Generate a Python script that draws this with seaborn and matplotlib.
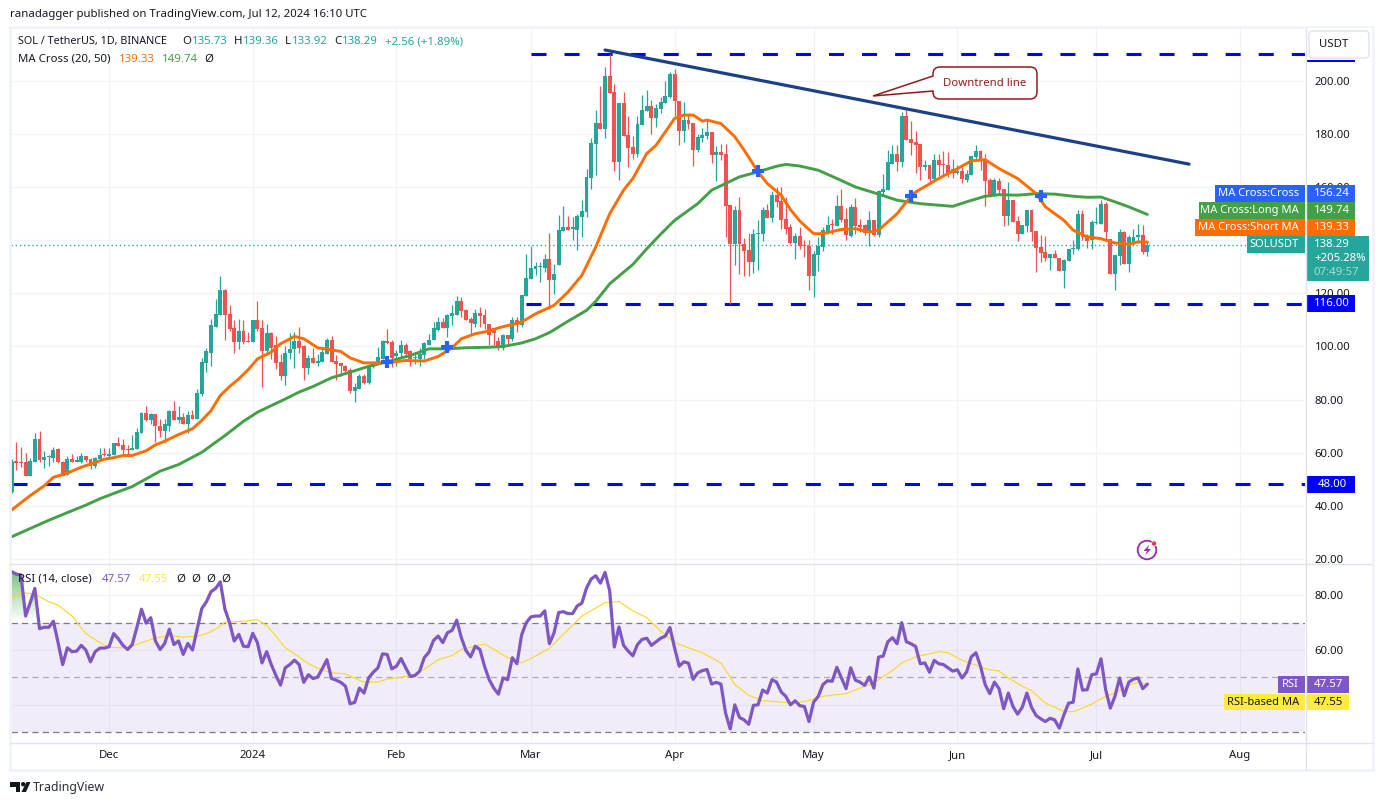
"""
SOL / TetherUS daily chart with MA cross and RSI panels, rebuilt with seaborn.
All values were read off the published TradingView picture.
"""

import matplotlib
matplotlib.use("Agg")

import matplotlib.dates as mdates
import matplotlib.pyplot as plt
import numpy as np
import pandas as pd
import seaborn as sns
from matplotlib.patches import Circle, FancyBboxPatch, PathPatch, Polygon, Rectangle
from matplotlib.path import Path


# ----------------------------------------------------------
# DATA
# ----------------------------------------------------------

first_day = "2023-11-10"

opens = [
    45.0, 56.6, 56.3, 56.3, 51.3, 56.6, 65.3, 57.3, 58.3, 58.1,
    61.2, 56.6, 51.4, 57.7, 56.6, 56.6, 58.7, 57.7, 54.9, 57.7,
    59.2, 58.7, 59.2, 63.8, 63.0, 61.5, 60.8, 61.5, 67.5, 75.1,
    72.1, 74.7, 70.2, 68.3, 70.2, 75.8, 72.1, 73.6, 70.6, 74.3,
    72.5, 81.9, 93.6, 97.7, 107.5, 112.0, 121.1, 112.4, 106.8, 101.5,
    106.0, 101.8, 101.5, 109.8, 106.8, 98.1, 104.9, 100.4, 94.0, 89.0,
    97.4, 98.9, 101.9, 100.0, 91.8, 95.7, 93.7, 94.1, 97.2, 102.3,
    94.5, 93.7, 92.8, 91.0, 83.4, 84.0, 88.7, 86.4, 92.2, 93.7,
    95.4, 101.9, 101.6, 96.3, 97.4, 100.7, 98.1, 95.7, 95.4, 96.6,
    100.7, 102.3, 106.3, 109.2, 107.0, 111.3, 112.0, 117.0, 113.6, 110.2,
    108.6, 112.6, 111.7, 108.3, 107.0, 102.0, 99.4, 104.2, 102.9, 109.8,
    107.9, 118.9, 125.3, 129.0, 129.8, 129.7, 133.1, 124.9, 130.6, 143.4,
    144.9, 144.4, 144.0, 148.8, 150.6, 163.4, 176.2, 184.1, 181.9, 201.9,
    195.9, 169.6, 191.7, 179.6, 175.1, 172.4, 183.4, 188.7, 190.6, 186.0,
    189.4, 191.7, 194.0, 202.6, 192.5, 181.1, 185.3, 184.1, 174.0, 178.5,
    179.2, 180.8, 172.1, 173.2, 172.4, 153.2, 138.5, 151.3, 138.5, 136.2,
    131.7, 142.3, 142.3, 151.3, 148.3, 157.0, 154.7, 147.9, 144.9, 139.0,
    141.5, 138.3, 137.7, 126.4, 134.5, 137.5, 143.3, 145.9, 145.3, 152.8,
    147.9, 141.8, 152.6, 145.9, 145.6, 142.8, 147.5, 141.9, 158.1, 158.9,
    168.9, 172.4, 169.4, 186.8, 178.1, 177.0, 176.2, 167.7, 168.2, 163.1,
    170.2, 168.7, 168.2, 166.7, 165.4, 166.0, 162.6, 164.5, 171.4, 173.6,
    170.6, 162.6, 157.0, 162.4, 159.2, 149.0, 155.1, 147.2, 142.5, 145.4,
    151.3, 143.5, 137.4, 135.7, 133.3, 134.8, 133.5, 128.3, 132.1, 136.7,
    136.6, 149.8, 141.5, 140.3, 146.6, 146.3, 153.8, 140.6, 127.4, 134.0,
    143.1, 131.2, 138.5, 141.3, 141.9, 135.73,
]

closes = [
    56.6, 56.2, 56.0, 51.3, 57.0, 65.3, 57.3, 58.5, 58.5, 61.0,
    56.4, 51.3, 57.7, 56.4, 57.0, 58.7, 57.3, 54.9, 58.1, 59.2,
    59.0, 59.6, 63.8, 62.5, 61.1, 60.8, 61.9, 67.8, 75.1, 72.1,
    74.7, 70.0, 68.3, 70.6, 75.8, 72.1, 73.6, 70.6, 74.3, 72.5,
    82.3, 94.0, 98.1, 107.9, 112.4, 121.1, 112.0, 106.4, 101.5, 106.0,
    101.5, 101.5, 109.8, 106.4, 98.1, 104.9, 99.6, 93.6, 89.0, 97.7,
    99.2, 101.9, 99.6, 91.8, 95.7, 93.7, 94.5, 97.9, 102.5, 94.1,
    93.2, 92.5, 90.6, 83.4, 84.7, 89.0, 86.4, 92.4, 94.1, 96.0,
    101.9, 101.4, 95.7, 97.7, 100.7, 97.2, 95.4, 95.8, 97.0, 101.2,
    102.5, 106.8, 109.2, 107.0, 111.7, 112.6, 117.0, 113.2, 109.8, 108.8,
    112.6, 111.3, 108.3, 104.5, 105.0, 99.5, 104.2, 102.9, 109.8, 107.9,
    119.2, 125.8, 129.4, 130.2, 130.0, 133.1, 124.9, 127.4, 143.8, 144.9,
    144.0, 144.6, 149.0, 151.0, 163.8, 176.6, 184.1, 181.9, 201.9, 195.4,
    169.6, 191.7, 179.2, 174.7, 172.4, 183.8, 189.0, 190.6, 186.0, 189.7,
    192.1, 194.3, 202.6, 192.5, 181.1, 185.3, 183.8, 174.0, 178.9, 179.6,
    180.8, 172.1, 173.2, 172.1, 152.8, 138.5, 151.3, 138.5, 136.0, 131.7,
    142.3, 142.7, 151.3, 148.3, 157.0, 154.3, 147.6, 144.4, 139.0, 141.5,
    137.7, 137.9, 126.5, 135.0, 137.7, 143.8, 145.9, 145.6, 152.8, 147.5,
    141.9, 152.6, 145.4, 145.0, 142.8, 147.5, 141.9, 158.5, 159.2, 169.6,
    172.4, 169.4, 186.8, 177.7, 176.6, 175.8, 167.7, 168.2, 163.1, 170.2,
    168.4, 168.4, 165.2, 165.2, 166.0, 163.0, 164.9, 171.7, 173.6, 170.2,
    162.4, 157.0, 162.6, 158.9, 149.0, 155.1, 146.9, 142.5, 145.7, 151.3,
    143.1, 137.1, 135.3, 133.3, 134.8, 133.3, 128.3, 132.4, 136.6, 136.9,
    149.8, 141.3, 139.9, 146.9, 146.8, 153.6, 143.1, 127.4, 134.3, 143.1,
    131.2, 141.3, 141.3, 141.9, 135.6, 138.29,
]

highs = [
    57.6, 64.1, 62.0, 60.0, 58.0, 67.2, 68.3, 60.7, 59.2, 62.1,
    61.6, 57.0, 58.9, 59.6, 58.9, 60.0, 58.9, 58.1, 58.5, 61.9,
    61.9, 61.9, 63.8, 65.8, 65.3, 63.0, 66.8, 69.3, 75.3, 77.7,
    75.1, 74.7, 72.5, 72.5, 76.2, 79.6, 77.4, 75.1, 75.8, 76.2,
    84.1, 95.5, 99.6, 110.2, 118.0, 126.4, 121.5, 115.5, 109.8, 110.2,
    109.8, 105.3, 109.8, 117.0, 109.8, 108.3, 105.6, 104.0, 97.0, 100.0,
    104.9, 105.6, 107.2, 100.4, 96.6, 99.5, 97.0, 99.7, 103.2, 103.9,
    96.6, 93.7, 93.1, 91.9, 86.3, 89.7, 89.7, 92.8, 94.7, 99.7,
    102.3, 106.4, 102.5, 98.5, 102.5, 101.2, 98.5, 97.9, 99.5, 101.6,
    104.8, 109.2, 111.0, 110.7, 112.3, 115.5, 118.9, 118.6, 114.2, 111.0,
    114.2, 115.0, 114.2, 108.3, 107.0, 103.5, 104.8, 104.2, 111.0, 111.0,
    119.2, 134.7, 137.7, 131.8, 132.0, 135.0, 142.8, 131.0, 149.4, 152.8,
    149.0, 148.8, 150.0, 155.1, 166.7, 178.5, 189.0, 198.1, 205.3, 210.2,
    198.9, 191.7, 195.9, 186.8, 179.2, 186.8, 194.7, 196.6, 192.8, 191.3,
    194.0, 200.0, 203.4, 204.5, 192.5, 192.1, 187.5, 184.1, 180.0, 182.5,
    184.9, 180.8, 175.5, 176.2, 176.2, 153.2, 152.8, 156.2, 140.8, 142.8,
    144.1, 147.5, 152.6, 153.8, 158.5, 160.1, 160.1, 156.4, 146.3, 142.8,
    145.0, 140.0, 140.0, 136.0, 141.2, 145.0, 149.0, 148.2, 157.0, 159.2,
    152.0, 153.6, 156.0, 148.2, 146.3, 151.0, 147.5, 158.9, 164.9, 174.0,
    176.1, 175.8, 188.2, 189.0, 184.9, 181.3, 176.2, 170.4, 168.2, 172.4,
    172.7, 173.7, 173.3, 170.8, 168.3, 167.7, 166.4, 171.8, 175.8, 174.2,
    172.7, 163.6, 163.3, 163.3, 159.2, 161.8, 155.1, 149.0, 145.7, 151.3,
    151.7, 143.5, 141.9, 141.5, 134.9, 136.5, 133.5, 132.8, 136.9, 140.2,
    151.3, 151.3, 142.5, 147.5, 152.6, 155.1, 154.5, 140.6, 134.3, 144.4,
    143.5, 141.9, 144.4, 146.3, 145.9, 139.36,
]

lows = [
    44.6, 53.6, 54.5, 51.3, 51.0, 56.4, 56.4, 54.1, 54.9, 56.4,
    56.0, 51.0, 51.4, 56.4, 56.4, 56.0, 56.4, 53.7, 54.1, 57.7,
    58.9, 58.5, 59.2, 62.5, 59.6, 59.6, 60.8, 61.5, 67.5, 71.8,
    70.6, 64.1, 65.8, 63.8, 68.3, 72.1, 71.2, 70.6, 67.5, 72.5,
    72.5, 81.5, 90.2, 92.8, 107.2, 112.0, 102.3, 106.0, 97.4, 98.9,
    100.8, 101.5, 101.5, 106.0, 84.9, 96.6, 95.1, 91.5, 87.5, 85.3,
    95.1, 91.7, 97.7, 87.2, 89.7, 93.7, 92.8, 94.1, 97.2, 94.1,
    87.2, 89.0, 90.3, 82.4, 79.0, 84.0, 85.9, 85.9, 92.0, 93.4,
    95.4, 101.0, 92.2, 92.8, 95.7, 96.0, 92.8, 93.4, 92.8, 95.4,
    100.4, 102.3, 106.0, 107.0, 103.5, 107.9, 112.0, 111.0, 109.8, 104.8,
    107.5, 107.3, 106.7, 100.4, 100.4, 98.5, 98.7, 100.4, 101.9, 105.4,
    107.5, 118.9, 125.3, 127.0, 124.3, 128.0, 114.2, 119.9, 130.6, 143.4,
    143.8, 140.2, 136.5, 141.3, 148.8, 159.2, 164.5, 181.9, 178.5, 195.4,
    166.0, 162.6, 179.2, 167.6, 170.6, 171.5, 183.4, 188.7, 180.0, 182.8,
    188.0, 191.7, 193.6, 186.8, 175.8, 177.0, 182.0, 167.9, 173.3, 177.0,
    178.0, 169.2, 162.3, 170.2, 141.3, 116.1, 130.6, 127.4, 126.7, 126.7,
    127.7, 128.7, 139.6, 148.3, 146.9, 152.6, 144.4, 142.5, 138.7, 133.1,
    136.9, 133.7, 121.1, 118.6, 128.3, 136.0, 142.5, 142.5, 145.3, 146.9,
    140.0, 141.3, 142.5, 143.1, 142.1, 137.9, 141.6, 141.3, 157.0, 158.9,
    168.7, 166.0, 167.7, 177.7, 172.0, 165.4, 162.6, 166.4, 161.4, 162.9,
    164.4, 164.5, 163.9, 163.6, 164.9, 161.6, 162.0, 164.5, 170.6, 166.4,
    152.8, 156.3, 156.6, 158.0, 145.3, 145.7, 146.9, 139.6, 142.5, 143.1,
    139.6, 128.0, 131.8, 132.2, 128.7, 133.3, 128.3, 122.0, 132.1, 135.0,
    136.2, 140.3, 137.0, 136.9, 146.3, 146.3, 140.6, 127.2, 121.4, 130.6,
    131.2, 128.0, 138.1, 139.0, 135.0, 133.92,
]

short_ma_days = [
    0, 4, 7, 9, 12, 15, 18, 20, 22, 24, 26, 29, 31, 33, 36, 39, 41, 43, 45, 47,
    49, 51, 53, 56, 58, 61, 63, 66, 69, 71, 73, 76, 79, 82, 85, 89, 92, 95, 97,
    100, 103, 105, 108, 110, 113, 117, 120, 123, 126, 129, 132, 134, 137, 139,
    143, 145, 147, 149, 150, 153, 156, 158, 161, 163, 166, 168, 170, 173, 175,
    179, 182, 185, 187, 191, 193, 195, 200, 204, 207, 210, 213, 217, 221, 223,
    227, 229, 232, 235, 238, 241, 243, 245,
]
short_ma = [
    38.4, 43.8, 47.5, 50.7, 52.3, 54.5, 56.3, 57.5, 58.1, 58.9, 58.9, 60.7, 62.9,
    64.3, 66.8, 69.0, 72.1, 75.8, 81.5, 84.9, 87.8, 91.2, 95.3, 97.9, 101.0,
    103.8, 102.9, 99.5, 98.7, 98.1, 95.7, 93.8, 93.8, 94.1, 94.7, 94.5, 96.2,
    99.5, 102.9, 104.8, 105.8, 107.0, 108.3, 109.2, 112.3, 115.5, 120.5, 126.8,
    137.5, 150.0, 158.9, 163.3, 172.7, 175.8, 185.9, 187.2, 187.2, 184.9, 185.3,
    184.0, 179.0, 174.0, 165.8, 161.4, 157.0, 151.6, 147.3, 142.5, 142.5, 144.1,
    144.4, 143.1, 143.8, 150.0, 154.5, 158.2, 163.3, 167.0, 169.9, 170.4, 167.0,
    163.3, 157.6, 152.6, 147.5, 143.8, 141.3, 140.6, 139.0, 138.5, 139.4, 139.33,
]

long_ma_days = [
    0, 8, 13, 16, 19, 22, 26, 29, 32, 36, 41, 44, 46, 50, 53, 56, 59, 62, 65, 69,
    73, 77, 82, 86, 90, 94, 98, 103, 106, 110, 113, 116, 120, 124, 126, 129, 134,
    137, 140, 143, 148, 151, 157, 161, 165, 167, 170, 174, 178, 182, 187, 191,
    196, 203, 206, 210, 213, 217, 221, 225, 229, 232, 235, 238, 241, 245,
]
long_ma = [
    28.3, 34.5, 38.1, 40.2, 42.6, 44.6, 47.2, 50.1, 53.0, 55.5, 60.1, 63.9, 66.4,
    71.8, 75.2, 77.7, 80.2, 82.8, 84.9, 88.2, 90.3, 92.5, 94.7, 96.6, 99.1, 99.1,
    99.5, 99.7, 100.0, 101.3, 102.9, 105.2, 109.5, 113.6, 117.0, 123.6, 130.9,
    136.8, 142.3, 147.5, 153.8, 158.9, 163.9, 165.8, 167.9, 168.6, 168.0, 166.4,
    163.3, 160.1, 157.4, 155.1, 153.8, 152.8, 154.5, 156.6, 157.2, 157.0, 157.6,
    157.4, 156.6, 156.2, 156.3, 154.5, 152.6, 149.74,
]

cross_days = [81, 94, 161, 194, 222]
cross_prices = [94.3, 99.9, 166.0, 156.6, 156.6]

trend_days = [128, 254]
trend_prices = [211.7, 168.7]

level_prices = [210.2, 116.0, 48.0]
level_start_days = [112, 111, 0]

rsi = [
    88.6, 87.7, 87.4, 72.4, 77.3, 82.5, 67.8, 68.3, 68.3, 70.5,
    62.7, 54.7, 60.8, 59.4, 59.6, 61.7, 60.0, 55.7, 59.4, 60.7,
    60.7, 61.2, 66.0, 64.1, 61.7, 60.2, 62.0, 68.2, 74.9, 69.8,
    71.8, 63.3, 60.2, 62.4, 67.6, 62.0, 63.3, 58.4, 62.4, 60.0,
    67.6, 75.1, 77.6, 81.3, 82.5, 84.9, 74.9, 70.0, 63.3, 65.7,
    61.4, 61.2, 66.1, 62.7, 55.3, 59.4, 54.7, 50.7, 47.2, 53.5,
    54.7, 56.3, 54.7, 48.2, 51.0, 49.6, 50.1, 53.2, 56.5, 49.6,
    49.0, 48.2, 46.8, 40.4, 40.9, 46.1, 44.3, 49.8, 51.9, 53.5,
    58.6, 58.4, 53.1, 54.1, 56.9, 53.5, 50.4, 50.7, 52.3, 57.2,
    59.2, 63.5, 65.1, 62.7, 66.3, 67.2, 70.9, 64.5, 59.8, 57.5,
    61.4, 60.2, 54.1, 49.2, 46.1, 43.9, 49.8, 49.2, 57.2, 55.0,
    65.5, 70.0, 72.1, 72.4, 72.4, 74.3, 62.3, 66.3, 73.7, 74.0,
    73.3, 73.3, 76.1, 77.1, 82.6, 85.9, 87.1, 84.4, 88.3, 81.6,
    61.1, 68.4, 61.7, 59.6, 57.9, 62.0, 63.9, 64.3, 61.7, 63.0,
    64.3, 65.1, 68.2, 60.8, 54.1, 55.7, 55.2, 49.3, 51.7, 52.5,
    52.9, 47.6, 48.2, 47.6, 37.0, 31.2, 40.0, 35.4, 34.5, 32.9,
    39.8, 40.0, 45.4, 44.3, 49.2, 48.3, 44.7, 43.1, 40.0, 41.5,
    39.7, 39.4, 33.9, 41.0, 43.1, 47.4, 48.8, 48.6, 53.7, 49.8,
    45.9, 53.5, 49.0, 48.3, 47.1, 50.2, 46.1, 57.4, 57.8, 63.0,
    64.5, 62.3, 70.0, 63.0, 62.3, 61.3, 55.0, 55.3, 51.9, 56.2,
    55.0, 54.7, 53.5, 52.3, 52.8, 49.8, 52.0, 57.5, 59.0, 54.1,
    47.4, 44.1, 48.3, 45.9, 38.6, 44.3, 39.4, 36.6, 39.1, 44.3,
    39.1, 36.1, 34.9, 33.9, 35.1, 34.5, 31.5, 36.4, 40.6, 41.0,
    53.1, 45.4, 45.5, 51.0, 51.3, 56.8, 45.5, 38.8, 43.1, 49.8,
    43.3, 48.3, 49.4, 49.8, 45.9, 47.57,
]

rsi_ma_days = [
    0, 2, 5, 8, 10, 13, 16, 19, 21, 25, 28, 31, 34, 37, 40, 42, 44, 46, 50, 53,
    55, 57, 59, 62, 64, 67, 69, 72, 76, 79, 81, 83, 87, 90, 92, 95, 97, 100, 102,
    104, 107, 110, 113, 116, 119, 123, 128, 131, 134, 137, 140, 143, 146, 149,
    153, 156, 159, 162, 166, 169, 172, 175, 180, 183, 186, 190, 192, 195, 200,
    202, 205, 207, 210, 213, 215, 218, 220, 223, 227, 229, 231, 233, 236, 238,
    241, 243, 245,
]
rsi_ma = [
    78.6, 81.0, 80.4, 77.6, 76.4, 72.4, 66.0, 62.7, 61.0, 60.7, 62.7, 64.4, 65.2,
    64.7, 65.0, 66.0, 67.6, 70.2, 70.5, 71.1, 69.0, 65.1, 60.8, 57.5, 55.0, 52.6,
    51.7, 51.3, 48.2, 48.3, 49.4, 49.8, 51.0, 54.1, 56.5, 58.0, 60.2, 61.4, 62.2,
    60.2, 57.2, 55.3, 57.8, 60.6, 65.7, 72.4, 77.3, 77.7, 74.3, 71.8, 66.9, 62.7,
    60.8, 59.0, 55.3, 47.4, 43.5, 41.5, 41.0, 40.6, 41.6, 43.1, 44.1, 46.1, 48.0,
    52.5, 55.3, 57.5, 59.4, 59.0, 56.3, 55.1, 53.2, 52.3, 49.8, 46.8, 45.2, 40.6,
    37.6, 37.5, 38.8, 40.3, 43.1, 44.3, 47.1, 48.2, 47.55,
]

price_ticks = [20, 40, 60, 80, 100, 120, 140, 160, 180, 200]
price_tick_labels = ["20.00", "40.00", "60.00", "80.00", "100.00", "120.00", "",
                     "160.00", "180.00", "200.00"]
rsi_ticks = [40, 60, 80]
rsi_tick_labels = ["", "60.00", "80.00"]
rsi_levels = [70, 50, 30]
month_ticks = ["2023-12-01", "2024-01-01", "2024-02-01", "2024-03-01", "2024-04-01",
               "2024-05-01", "2024-06-01", "2024-07-01", "2024-08-01"]
month_labels = ["Dec", "2024", "Feb", "Mar", "Apr", "May", "Jun", "Jul", "Aug"]


# ----------------------------------------------------------
# COLOURS AND SETUP
# ----------------------------------------------------------

GREEN = "#26a69a"
RED = "#ef5350"
ORANGE = "#ff6d00"
MA_GREEN = "#43a047"
BLUE = "#2962ff"
LEVEL = "#0000ff"
TREND = "#1c4087"
PURPLE = "#7e57c2"
YELLOW = "#fdd835"
GRID = "#f0f3fa"
FRAME = "#e0e3eb"
TEXT = "#131722"
NOTE = "#8e1c1c"

sns.set_theme(style="white")
plt.rcParams["font.family"] = ["Noto Sans", "DejaVu Sans"]
plt.rcParams["lines.scale_dashes"] = False
plt.rcParams["patch.linewidth"] = 0

W, H = 1383, 805
FS = 8.2
TAG = 8.0


def to_dates(days):
    return pd.to_datetime(first_day) + pd.to_timedelta(days, unit="D")


def panel(x0, y0, x1, y1):
    return [x0 / W, 1 - y1 / H, (x1 - x0) / W, (y1 - y0) / H]


dates = to_dates(np.arange(len(closes)))
candles = pd.DataFrame({"date": dates, "open": opens, "close": closes, "high": highs, "low": lows})
rsi_df = pd.DataFrame({"date": dates, "rsi": rsi})
xlim = (to_dates(-0.26), to_dates(279.0))

fig = plt.figure(figsize=(W / 100, H / 100), dpi=100, facecolor="white")
ax = fig.add_axes(panel(10.5, 28, 1305, 563))
ax_rsi = fig.add_axes(panel(10.5, 563, 1305, 742))
over = fig.add_axes([0, 0, 1, 1], zorder=5)
over.set_xlim(0, W)
over.set_ylim(H, 0)
over.axis("off")


# ----------------------------------------------------------
# PRICE PANEL
# ----------------------------------------------------------

ax.vlines(candles["date"], candles["low"], candles["high"],
          colors=np.where(candles["close"] >= candles["open"], GREEN, RED),
          linewidth=0.9, zorder=3)

body_bottom = candles[["open", "close"]].min(axis=1)
body_height = (candles["close"] - candles["open"]).abs().clip(lower=0.45)
ax.bar(candles["date"], body_height, bottom=body_bottom, width=0.85,
       color=np.where(candles["close"] >= candles["open"], GREEN, RED), zorder=3)

sns.lineplot(x=to_dates(long_ma_days), y=long_ma, ax=ax, color=MA_GREEN,
             linewidth=2.1, estimator=None, zorder=4)
sns.lineplot(x=to_dates(short_ma_days), y=short_ma, ax=ax, color=ORANGE,
             linewidth=2.1, estimator=None, zorder=5)
sns.scatterplot(x=to_dates(cross_days), y=cross_prices, ax=ax, color=BLUE,
                marker="+", s=85, linewidth=3.0, zorder=6)
sns.lineplot(x=to_dates(trend_days), y=trend_prices, ax=ax, color=TREND,
             linewidth=2.3, estimator=None, zorder=6)

for level, start in zip(level_prices, level_start_days):
    ax.plot([to_dates(start), xlim[1]], [level, level], color=LEVEL, linewidth=2.2,
            dashes=(10.8, 13.0), dash_capstyle="butt", zorder=2.5)

ax.axhline(closes[-1], color=GREEN, linewidth=1.0, dashes=(1.0, 2.0), zorder=2)

ax.set_xlim(xlim)
ax.set_ylim(18.4, 220)
ax.set_yticks(price_ticks)
ax.set_yticklabels(price_tick_labels, fontsize=FS, color=TEXT)
ax.yaxis.tick_right()
ax.tick_params(axis="y", length=0, pad=7)
ax.set_xticks(pd.to_datetime(month_ticks))
ax.tick_params(axis="x", length=0, labelbottom=False)
ax.grid(True, color=GRID, linewidth=0.9)
ax.set_axisbelow(True)
ax.set_xlabel("")
sns.despine(ax=ax, left=True, right=True, top=True, bottom=True)


# ----------------------------------------------------------
# RSI PANEL
# ----------------------------------------------------------

ax_rsi.axhspan(rsi_levels[2], rsi_levels[0], color=PURPLE, alpha=0.1, linewidth=0, zorder=1)
for level, shade in zip(rsi_levels, [1.0, 0.55, 1.0]):
    ax_rsi.axhline(level, color="#787b86", alpha=shade, linewidth=0.9, dashes=(4.5, 3.0), zorder=2)

rsi_values = np.array(rsi)
region = ax_rsi.fill_between(mdates.date2num(dates), rsi_values, 70, where=rsi_values > 70,
                             interpolate=True, color="none", linewidth=0)
shade_rows = np.linspace(0, 1, 120)
shade_rgba = np.zeros((120, 1, 4))
shade_rgba[..., 0] = 0.30
shade_rgba[..., 1] = 0.69
shade_rgba[..., 2] = 0.31
shade_rgba[..., 3] = (shade_rows ** 1.1 * 0.75)[:, None]
num_lim = mdates.date2num(xlim)
shade = ax_rsi.imshow(shade_rgba, origin="lower", aspect="auto", zorder=1.5,
                      extent=(num_lim[0], num_lim[1], 70, 88.5))
shade.set_clip_path(region.get_paths()[0], transform=ax_rsi.transData)

sns.lineplot(x=to_dates(rsi_ma_days), y=rsi_ma, ax=ax_rsi, color=YELLOW,
             linewidth=0.9, estimator=None, zorder=3)
sns.lineplot(data=rsi_df, x="date", y="rsi", ax=ax_rsi, color=PURPLE,
             linewidth=2.3, estimator=None, zorder=4)

ax_rsi.set_xlim(xlim)
ax_rsi.set_ylim(26.44, 91.76)
ax_rsi.set_yticks(rsi_ticks)
ax_rsi.set_yticklabels(rsi_tick_labels, fontsize=FS, color=TEXT)
ax_rsi.yaxis.tick_right()
ax_rsi.tick_params(axis="y", length=0, pad=7)
ax_rsi.set_xticks(pd.to_datetime(month_ticks))
ax_rsi.set_xticklabels(month_labels, fontsize=FS, color=TEXT)
ax_rsi.get_xticklabels()[1].set_fontweight("bold")
ax_rsi.tick_params(axis="x", length=0, pad=6)
ax_rsi.grid(True, color=GRID, linewidth=0.9)
ax_rsi.set_axisbelow(True)
ax_rsi.set_xlabel("")
ax_rsi.set_ylabel("")
sns.despine(ax=ax_rsi, left=True, right=True, top=True, bottom=True)


# ----------------------------------------------------------
# FRAME, LABELS AND HEADER TEXT (figure pixels)
# ----------------------------------------------------------

def write(x, y, text, color=TEXT, ha="left", size=FS, **kwargs):
    over.text(x, y, text, color=color, ha=ha, va="center", fontsize=size, **kwargs)


def box(x0, y0, x1, y1, color):
    over.add_patch(Rectangle((x0, y0), x1 - x0, y1 - y0, facecolor=color, edgecolor="none"))


# outer frame and separators
over.add_patch(Rectangle((10, 27), 1362.5, 743, facecolor="none", edgecolor=GRID, linewidth=2))
over.plot([1305.5, 1305.5], [28, 770], color=FRAME, linewidth=1)
over.plot([10, 1372], [563.5, 563.5], color=FRAME, linewidth=1)
over.plot([10, 1372], [742.5, 742.5], color=FRAME, linewidth=1)

# level label hidden under the currency button
box(1306, 46, 1355, 62.5, LEVEL)
box(1306, 28.5, 1372, 60.5, "white")
over.add_patch(FancyBboxPatch((1311, 33), 56, 23, boxstyle="round,pad=2,rounding_size=4",
                              facecolor="white", edgecolor=FRAME, linewidth=1))
write(1319, 44.5, "USDT")

# price scale tags
box(1215, 185, 1304.5, 202, BLUE)
box(1306, 185, 1355, 202, BLUE)
write(1299, 193.5, "MA Cross:Cross", color="white", ha="right", size=TAG)
write(1314, 193.5, "156.24", color="white")

box(1199, 202, 1304.5, 218.5, MA_GREEN)
box(1306, 202, 1355, 218.5, MA_GREEN)
write(1299, 210, "MA Cross:Long MA", color="white", ha="right", size=TAG)
write(1314, 210, "149.74", color="white")

box(1195, 219, 1304.5, 236, ORANGE)
box(1306, 219, 1355, 236, ORANGE)
write(1299, 227.5, "MA Cross:Short MA", color="white", ha="right", size=TAG)
write(1314, 227.5, "139.33", color="white")

box(1247, 236, 1304.5, 253, GREEN)
box(1306, 236, 1369, 281, GREEN)
write(1299, 244.5, "SOLUSDT", color="white", ha="right", size=TAG)
write(1314, 244.5, "138.29", color="white")
write(1314, 258.5, "+205.28%", color="white")
write(1314, 272.5, "07:49:57", color="#a8dbd6")

box(1306, 295, 1355, 312, LEVEL)
write(1314, 303.5, "116.00", color="white")
box(1306, 475.5, 1355, 492.5, LEVEL)
write(1318, 484, "48.00", color="white")

box(1278, 676, 1304.5, 693, PURPLE)
box(1306, 676, 1349, 693, PURPLE)
write(1299, 684.5, "RSI", color="white", ha="right", size=TAG)
write(1314, 684.5, "47.57", color="white")

box(1224, 693.5, 1304.5, 710, "#ffeb3b")
box(1306, 693.5, 1349, 710, "#ffeb3b")
write(1299, 702, "RSI-based MA", ha="right", size=TAG)
write(1314, 702, "47.55")

# header
write(10, 14.5, "ranadagger published on TradingView.com, Jul 12, 2024 16:10 UTC")

write(18, 41.5, "SOL / TetherUS, 1D, BINANCE", size=7.8)
for x, letter, x_val, val in [(182.5, "O", 191.5, "135.73"), (234, "H", 242.7, "139.36"),
                              (285, "L", 291.7, "133.92"), (334, "C", 342, "138.29")]:
    write(x, 41.5, letter)
    write(x_val, 41.5, val, color=GREEN)
write(385, 41.5, "+2.56 (+1.89%)", color=GREEN)

write(18, 59, "MA Cross (20, 50)")
write(118.5, 59, "139.33", color=ORANGE)
write(162, 59, "149.74", color=MA_GREEN)
write(204, 59, "Ø")

write(18, 579, "RSI (14, close)")
write(102, 579, "47.57", color=PURPLE)
write(138.5, 579, "47.55", color="#ffeb3b")
for x in [176, 191, 206, 221]:
    write(x, 579, "Ø")

# footer logo
box(10, 782, 20, 786.5, "#131722")
box(15.5, 782, 20, 792, "#131722")
over.add_patch(Circle((23.2, 784.2), 2.2, facecolor="#131722", edgecolor="none"))
over.add_patch(Polygon([(26.5, 782), (30.5, 782), (26, 792), (21.5, 792)],
                       facecolor="#131722", edgecolor="none"))
write(33, 787.5, "TradingView", color="#2a2e39", size=8.9)

# callout
rx0, rx1, ry0, ry1, rr = 933, 1037, 67, 99, 7
verts = [(873, 96), (933, 76), (rx0, ry0 + rr), (rx0, ry0), (rx0 + rr, ry0), (rx1 - rr, ry0),
         (rx1, ry0), (rx1, ry0 + rr), (rx1, ry1 - rr), (rx1, ry1), (rx1 - rr, ry1),
         (rx0 + rr, ry1), (rx0, ry1), (rx0, ry1 - rr), (rx0, 91), (873, 96)]
codes = [Path.MOVETO, Path.LINETO, Path.LINETO, Path.CURVE3, Path.CURVE3, Path.LINETO,
         Path.CURVE3, Path.CURVE3, Path.LINETO, Path.CURVE3, Path.CURVE3, Path.LINETO,
         Path.CURVE3, Path.CURVE3, Path.LINETO, Path.CLOSEPOLY]
over.add_patch(PathPatch(Path(verts, codes), facecolor="white", edgecolor=NOTE, linewidth=1.1))
write(985, 83.5, "Downtrend line", color=NOTE, ha="center")

# news icon
over.add_patch(Circle((1147, 550), 9.3, facecolor="white", edgecolor="#9c27b0", linewidth=1.3))
over.add_patch(Polygon([(1149.5, 544.5), (1143.5, 551), (1147, 551), (1145, 555.5),
                        (1151, 549), (1147.5, 549)], facecolor="#9c27b0", edgecolor="none"))
over.add_patch(Circle((1154, 543.5), 2.6, facecolor="#f23645", edgecolor="white", linewidth=0.5))

fig.savefig("out.png", dpi=100, facecolor="white")
